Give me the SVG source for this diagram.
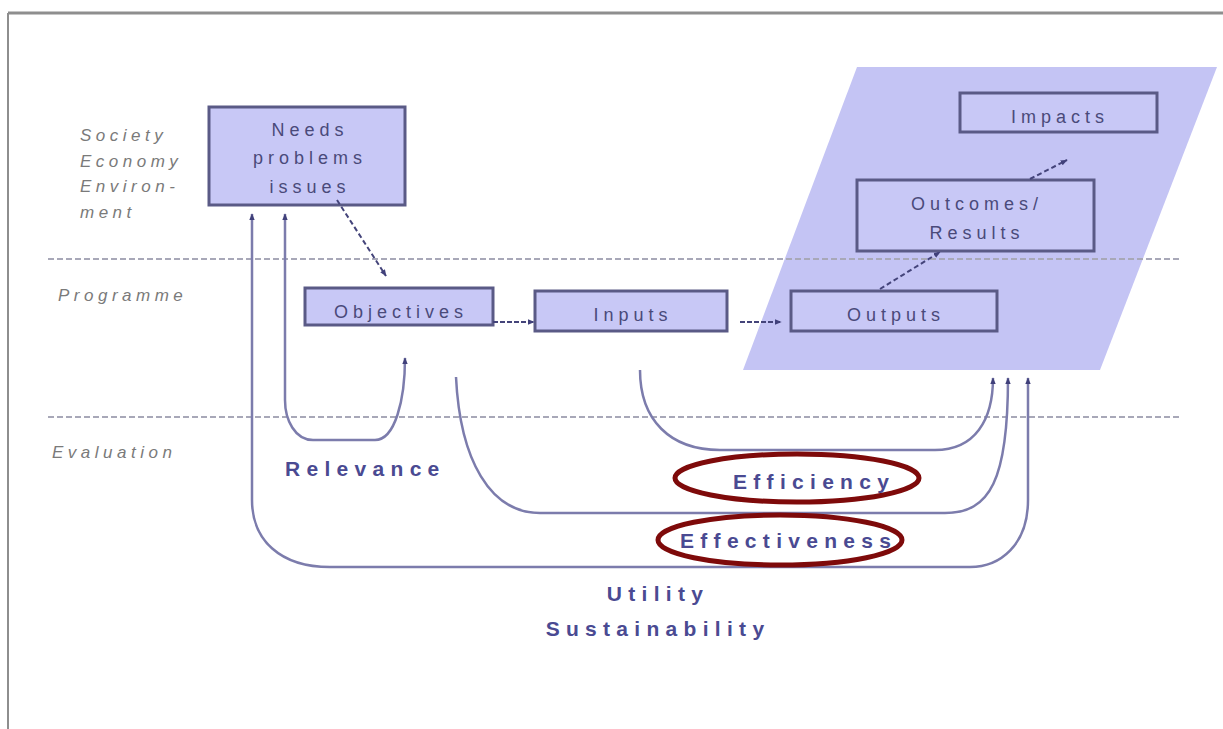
<svg xmlns="http://www.w3.org/2000/svg" width="1223" height="729" viewBox="0 0 1223 729">
  <defs>
    <marker id="arr" viewBox="0 0 10 10" refX="9" refY="5" markerWidth="7" markerHeight="7" orient="auto-start-reverse" markerUnits="userSpaceOnUse">
      <path d="M0,1 L10,5 L0,9 z" fill="#40407a"/>
    </marker>
    <style>
      .box { fill: #c8c8f6; stroke: #5a5a86; stroke-width: 3; }
      .btxt { font-family: "Liberation Sans", Arial, sans-serif; font-size: 18px; fill: #4a4a7a; letter-spacing: 5px; text-anchor: middle; }
      .side { font-family: "Liberation Sans", Arial, sans-serif; font-style: italic; font-size: 17px; fill: #7a7a7a; letter-spacing: 4.5px; }
      .eval { font-family: "Liberation Sans", Arial, sans-serif; font-weight: bold; font-size: 21px; fill: #4a4a92; letter-spacing: 6.3px; }
      .sep { stroke: #a8a8b8; stroke-width: 2; stroke-dasharray: 6 3; }
      .flow { fill: none; stroke: #7c7cac; stroke-width: 2.5; }
      .link { fill: none; stroke: #44447a; stroke-width: 2; }
      .ring { fill: none; stroke: #7e0a0a; stroke-width: 5; }
    </style>
  </defs>

  <rect x="0" y="0" width="1223" height="729" fill="#ffffff"/>
  <!-- frame -->
  <line x1="8" y1="13" x2="1223" y2="13" stroke="#8e8e8e" stroke-width="3"/>
  <line x1="8" y1="13" x2="8" y2="729" stroke="#8e8e8e" stroke-width="2"/>

  <!-- results zone -->
  <polygon points="857,67 1217,67 1100,370 743,370" fill="#c4c4f4"/>

  <!-- level separators -->
  <line class="sep" x1="48" y1="259" x2="1180" y2="259"/>
  <line class="sep" x1="48" y1="417" x2="1180" y2="417"/>

  <!-- level labels -->
  <text class="side" x="80" y="141">Society</text>
  <text class="side" x="80" y="167">Economy</text>
  <text class="side" x="80" y="192">Environ-</text>
  <text class="side" x="80" y="218">ment</text>
  <text class="side" x="58" y="301">Programme</text>
  <text class="side" x="52" y="458" font-style="normal">Evaluation</text>

  <g id="needs">
    <rect class="box" x="209" y="107" width="196" height="98"/>
    <text class="btxt" x="310" y="136">Needs</text>
    <text class="btxt" x="310" y="164">problems</text>
    <text class="btxt" x="310" y="193">issues</text>
  </g>
  <g id="objectives">
    <rect class="box" x="305" y="288" width="188" height="37"/>
    <text class="btxt" x="401" y="318">Objectives</text>
  </g>
  <g id="inputs">
    <rect class="box" x="535" y="291" width="192" height="40"/>
    <text class="btxt" x="633" y="321">Inputs</text>
  </g>
  <g id="outputs">
    <rect class="box" x="791" y="291" width="206" height="40"/>
    <text class="btxt" x="896" y="321">Outputs</text>
  </g>
  <g id="outcomes">
    <rect class="box" x="857" y="180" width="237" height="71"/>
    <text class="btxt" x="977" y="210">Outcomes/</text>
    <text class="btxt" x="977" y="239">Results</text>
  </g>
  <g id="impacts">
    <rect class="box" x="960" y="93" width="197" height="39"/>
    <text class="btxt" x="1060" y="123">Impacts</text>
  </g>

  <g id="connectors">
    <!-- programme chain -->
    <line class="link" x1="337" y1="200" x2="386" y2="276" stroke-dasharray="5 3" marker-end="url(#arr)"/>
    <line class="link" x1="493" y1="322" x2="534" y2="322" stroke-dasharray="5 2" marker-end="url(#arr)"/>
    <line class="link" x1="740" y1="322" x2="781" y2="322" stroke-dasharray="5 2" marker-end="url(#arr)"/>
    <line class="link" x1="880" y1="289" x2="940" y2="252" stroke-dasharray="5 3" marker-end="url(#arr)"/>
    <line class="link" x1="1030" y1="179" x2="1067" y2="160" stroke-dasharray="5 3" marker-end="url(#arr)"/>

    <!-- relevance -->
    <path class="flow" d="M405,358 C405,400 395,440 375,440 L313,440 C295,440 285,420 285,400 L285,214" marker-start="url(#arr)" marker-end="url(#arr)"/>
    <!-- efficiency -->
    <path class="flow" d="M640,370 C640,420 670,450 720,450 L935,450 C975,450 993,420 993,378" marker-end="url(#arr)"/>
    <!-- effectiveness -->
    <path class="flow" d="M456,377 C460,460 490,513 540,513 L945,513 C990,513 1008,480 1008,378" marker-end="url(#arr)"/>
    <!-- utility / sustainability -->
    <path class="flow" d="M1028,378 L1028,500 C1028,545 1000,567 970,567 L330,567 C280,567 252,540 252,500 L252,214" marker-start="url(#arr)" marker-end="url(#arr)"/>
  </g>

  <!-- evaluation criteria -->
  <text class="eval" x="285" y="476">Relevance</text>
  <ellipse class="ring" cx="797" cy="478" rx="122" ry="24"/>
  <text class="eval" x="733" y="489">Efficiency</text>
  <ellipse class="ring" cx="780" cy="540" rx="122" ry="25"/>
  <text class="eval" x="680" y="548">Effectiveness</text>
  <text class="eval" x="658" y="601" text-anchor="middle">Utility</text>
  <text class="eval" x="658" y="636" text-anchor="middle">Sustainability</text>
</svg>
